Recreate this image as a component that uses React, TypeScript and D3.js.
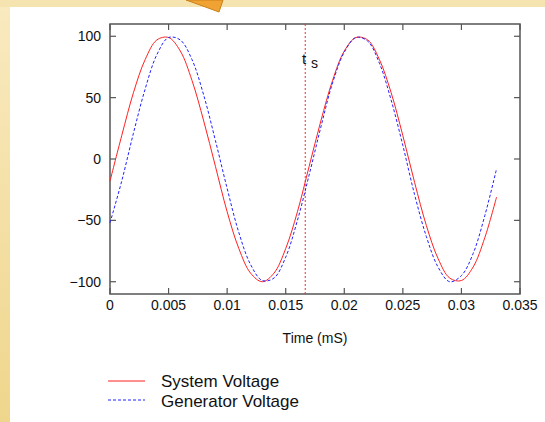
import * as React from "react";
import * as d3 from "d3";

// sample times (s) and the two voltages
const time = [
  0, 0.001, 0.002, 0.003, 0.004, 0.005, 0.006, 0.007, 0.008, 0.009, 0.01, 0.011,
  0.012, 0.013, 0.014, 0.015, 0.016, 0.017, 0.018, 0.019, 0.02, 0.021, 0.022,
  0.023, 0.024, 0.025, 0.026, 0.027, 0.028, 0.029, 0.03, 0.031, 0.032, 0.033,
];
const systemVoltage = [
  -18, 19, 54, 81, 97, 99, 88, 64, 31, -6, -43, -73, -93, -100, -93, -73, -43,
  -6, 31, 64, 88, 99, 97, 81, 54, 19, -19, -54, -81, -97, -99, -88, -64, -31,
];
const generatorVoltage = [
  -52, -18, 21, 57, 85, 99, 97, 81, 52, 15, -24, -60, -86, -99, -97, -80, -50,
  -13, 26, 62, 87, 99, 96, 78, 48, 11, -29, -63, -88, -100, -95, -77, -46, -8,
];
const syncTime = 0.016667;
const xTicks = [0, 0.005, 0.01, 0.015, 0.02, 0.025, 0.03, 0.035];
const xTickLabels = ["0", "0.005", "0.01", "0.015", "0.02", "0.025", "0.03", "0.035"];
const yTicks = [100, 50, 0, -50, -100];
const yTickLabels = ["100", "50", "0", "\u221250", "\u2212100"];
const legendNames = ["System Voltage", "Generator Voltage"];

const W = 545;
const H = 422;
const plot = { left: 110, right: 520, top: 24, bottom: 294 };
const font = "'Liberation Sans', Arial, sans-serif";

export default function App() {
  const x = d3.scaleLinear().domain([0, 0.035]).range([plot.left, plot.right]);
  const y = d3.scaleLinear().domain([-110, 110]).range([plot.bottom, plot.top]);

  const line = d3
    .line<number>()
    .x((_, i) => x(time[i]))
    .y((d) => y(d))
    .curve(d3.curveCatmullRom);

  const axisColor = "#555";
  const tickLen = 6;

  return (
    <svg
      width={W}
      height={H}
      style={{ position: "absolute", left: 0, top: 0 }}
    >
      <defs>
        <linearGradient id="side" x1="0" y1="0" x2="0" y2="1">
          <stop offset="0" stopColor="#f9eac0" />
          <stop offset="1" stopColor="#efd68c" />
        </linearGradient>
      </defs>
      <rect x={0} y={0} width={W} height={H} fill="url(#side)" />
      <rect x={0} y={0} width={W} height={7} fill="#f6e4b0" />
      <rect x={10} y={7} width={W - 10} height={H - 7} fill="#fff" />
      <polygon
        points="186,0 223,0 219,12 200,5"
        fill="#f0a232"
        stroke="#c9801a"
        strokeWidth={1}
      />

      {/* frame */}
      <rect
        x={plot.left}
        y={plot.top}
        width={plot.right - plot.left}
        height={plot.bottom - plot.top}
        fill="none"
        stroke={axisColor}
        strokeWidth={1.5}
      />

      {/* x ticks, mirrored on top */}
      {xTicks.map((t, i) => (
        <g key={"xt" + i}>
          <line x1={x(t)} x2={x(t)} y1={plot.bottom} y2={plot.bottom - tickLen} stroke={axisColor} strokeWidth={1.2} />
          <line x1={x(t)} x2={x(t)} y1={plot.top} y2={plot.top + tickLen} stroke={axisColor} strokeWidth={1.2} />
          <text
            x={x(t)}
            y={310}
            textAnchor="middle"
            fontFamily={font}
            fontSize={14}
            fill="#111"
          >
            {xTickLabels[i]}
          </text>
        </g>
      ))}

      {/* y ticks, mirrored on right */}
      {yTicks.map((v, i) => (
        <g key={"yt" + i}>
          <line x1={plot.left} x2={plot.left + tickLen} y1={y(v)} y2={y(v)} stroke={axisColor} strokeWidth={1.2} />
          <line x1={plot.right} x2={plot.right - tickLen} y1={y(v)} y2={y(v)} stroke={axisColor} strokeWidth={1.2} />
          <text
            x={101}
            y={y(v) + 5}
            textAnchor="end"
            fontFamily={font}
            fontSize={14}
            fill="#111"
          >
            {yTickLabels[i]}
          </text>
        </g>
      ))}

      {/* sync instant */}
      <line
        x1={x(syncTime)}
        x2={x(syncTime)}
        y1={plot.top}
        y2={plot.bottom}
        stroke="#f03030"
        strokeWidth={1}
        strokeDasharray="2,2"
      />
      <text x={302} y={64} fontFamily={font} fontSize={15} fill="#111">t</text>
      <text x={311} y={68} fontFamily={font} fontSize={14} fill="#111">s</text>

      <path d={line(systemVoltage) ?? ""} fill="none" stroke="#ff2020" strokeWidth={1} />
      <path
        d={line(generatorVoltage) ?? ""}
        fill="none"
        stroke="#2020ff"
        strokeWidth={1}
        strokeDasharray="3,2"
      />

      <text
        x={(plot.left + plot.right) / 2}
        y={343}
        textAnchor="middle"
        fontFamily={font}
        fontSize={14}
        fill="#111"
      >
        Time (mS)
      </text>

      {/* legend */}
      <line x1={108} x2={145} y1={381} y2={381} stroke="#ff2020" strokeWidth={1} />
      <line x1={108} x2={145} y1={400} y2={400} stroke="#2020ff" strokeWidth={1} strokeDasharray="3,2" />
      <text x={161} y={387} fontFamily={font} fontSize={17} fill="#111">{legendNames[0]}</text>
      <text x={161} y={407} fontFamily={font} fontSize={17} fill="#111">{legendNames[1]}</text>
    </svg>
  );
}
